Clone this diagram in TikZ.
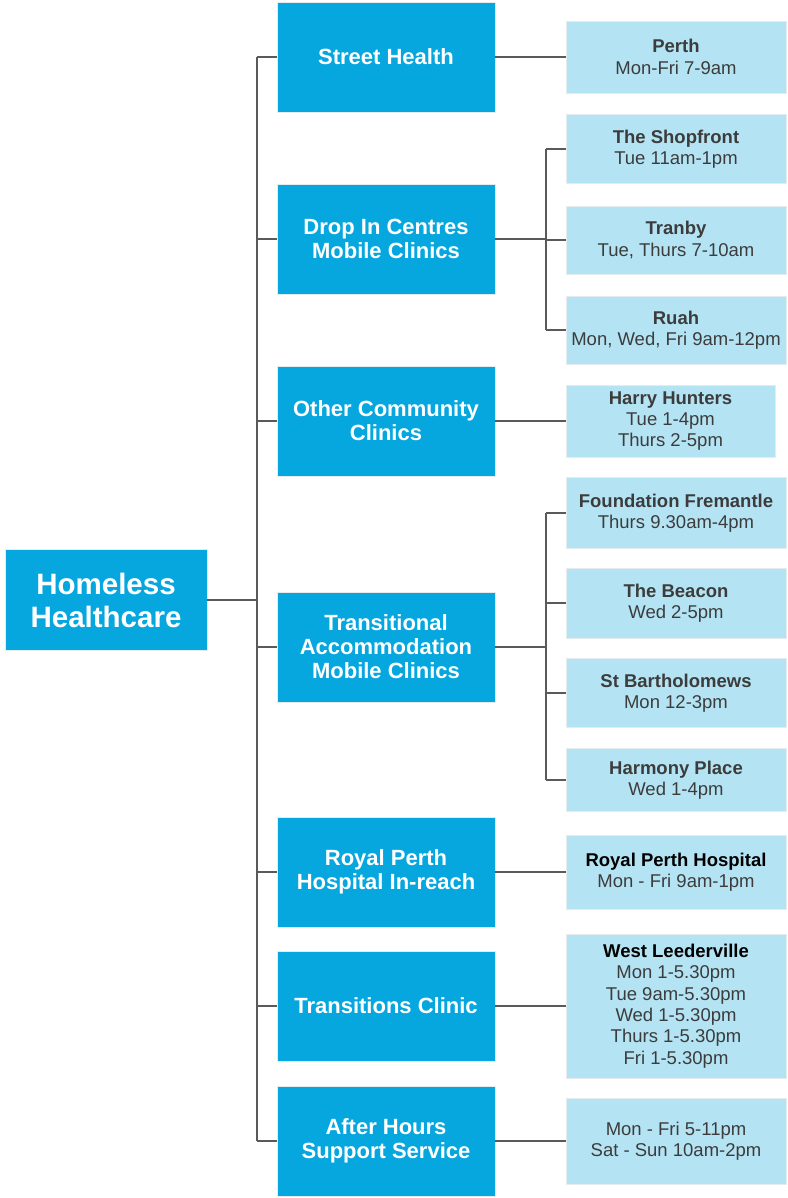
\documentclass[tikz,border=0pt]{standalone}
\usepackage{fontspec}
\setmainfont{Liberation Sans}
\begin{document}
\begin{tikzpicture}[x=1pt,y=-1pt,
  base/.style={draw=boxline,line width=0.8pt,inner sep=0pt,align=center},
  rootbox/.style={base,fill=midblue,text=white,font=\fontsize{29.5}{33}\selectfont\bfseries,minimum width=202pt,minimum height=101pt},
  midbox/.style={base,fill=midblue,text=white,font=\fontsize{22}{24}\selectfont\bfseries,minimum width=218pt,minimum height=110pt},
  leafbox/.style={base,fill=leafblue,text=leaftext,font=\fontsize{18.5}{21.3}\selectfont,minimum width=220pt},
  conn/.style={draw=linegrey,line width=1.4pt}]
\definecolor{midblue}{HTML}{06A7DF}
\definecolor{leafblue}{HTML}{B4E4F4}
\definecolor{boxline}{HTML}{E4ECEF}
\definecolor{linegrey}{HTML}{5A5A5A}
\definecolor{leaftext}{HTML}{3C3C3C}
\useasboundingbox[fill=white] (0,0) rectangle (787,1198);
\coordinate (tx) at (257,0);
\coordinate (bx) at (546,0);
% root
\node[rootbox] (root) at (106,600) {Homeless\\Healthcare};
% mid level
\node[midbox] (sh) at (386,57) {Street Health};
\node[midbox] (di) at (386,239) {Drop In Centres\\Mobile Clinics};
\node[midbox] (oc) at (386,421) {Other Community\\Clinics};
\node[midbox] (ta) at (386,647) {Transitional\\Accommodation\\Mobile Clinics};
\node[midbox] (rp) at (386,872) {Royal Perth\\Hospital In-reach};
\node[midbox] (tc) at (386,1006) {Transitions Clinic};
\node[midbox] (ah) at (386,1141) {After Hours\\Support Service};
% leaves
\node[leafbox,minimum height=72pt] (perth) at (676,57) {\textbf{Perth}\\Mon-Fri 7-9am};
\node[leafbox,minimum height=69pt] (shop) at (676,149) {\textbf{The Shopfront}\\Tue 11am-1pm};
\node[leafbox,minimum height=68pt] (tranby) at (676,240) {\textbf{Tranby}\\Tue, Thurs 7-10am};
\node[leafbox,minimum height=68pt] (ruah) at (676,330) {\textbf{Ruah}\\Mon, Wed, Fri 9am-12pm};
\node[leafbox,minimum height=72pt,minimum width=209pt] (harry) at (670.5,421) {\textbf{Harry Hunters}\\Tue 1-4pm\\Thurs 2-5pm};
\node[leafbox,minimum height=71pt] (found) at (676,513) {\textbf{Foundation Fremantle}\\Thurs 9.30am-4pm};
\node[leafbox,minimum height=70pt] (beacon) at (676,603) {\textbf{The Beacon}\\Wed 2-5pm};
\node[leafbox,minimum height=69pt] (stb) at (676,693) {\textbf{St Bartholomews}\\Mon 12-3pm};
\node[leafbox,minimum height=63pt] (harm) at (676,780) {\textbf{Harmony Place}\\Wed 1-4pm};
\node[leafbox,minimum height=74pt] (rph) at (676,872) {\textbf{\color{black}Royal Perth Hospital}\\Mon - Fri 9am-1pm};
\node[leafbox,minimum height=144pt] (wl) at (676,1006) {\textbf{\color{black}West Leederville}\\Mon 1-5.30pm\\Tue 9am-5.30pm\\Wed 1-5.30pm\\Thurs 1-5.30pm\\Fri 1-5.30pm};
\node[leafbox,minimum height=86pt] (ahl) at (676,1141) {Mon - Fri 5-11pm\\Sat - Sun 10am-2pm};
% connectors: root to trunk
\draw[conn] (root.east) -- (root.east -| tx);
\draw[conn] (sh.west -| tx) -- (ah.west -| tx);
\foreach \m in {sh,di,oc,ta,rp,tc,ah}{
  \draw[conn] (\m.west -| tx) -- (\m.west);
}
% single children
\draw[conn] (sh.east) -- (perth.west);
\draw[conn] (oc.east) -- (harry.west);
\draw[conn] (rp.east) -- (rph.west);
\draw[conn] (tc.east) -- (wl.west);
\draw[conn] (ah.east) -- (ahl.west);
% drop in group
\draw[conn] (di.east) -- (di.east -| bx);
\draw[conn] (shop.west -| bx) -- (ruah.west -| bx);
\foreach \l in {shop,tranby,ruah}{\draw[conn] (\l.west -| bx) -- (\l.west);}
% transitional group
\draw[conn] (ta.east) -- (ta.east -| bx);
\draw[conn] (found.west -| bx) -- (harm.west -| bx);
\foreach \l in {found,beacon,stb,harm}{\draw[conn] (\l.west -| bx) -- (\l.west);}
\end{tikzpicture}
\end{document}
